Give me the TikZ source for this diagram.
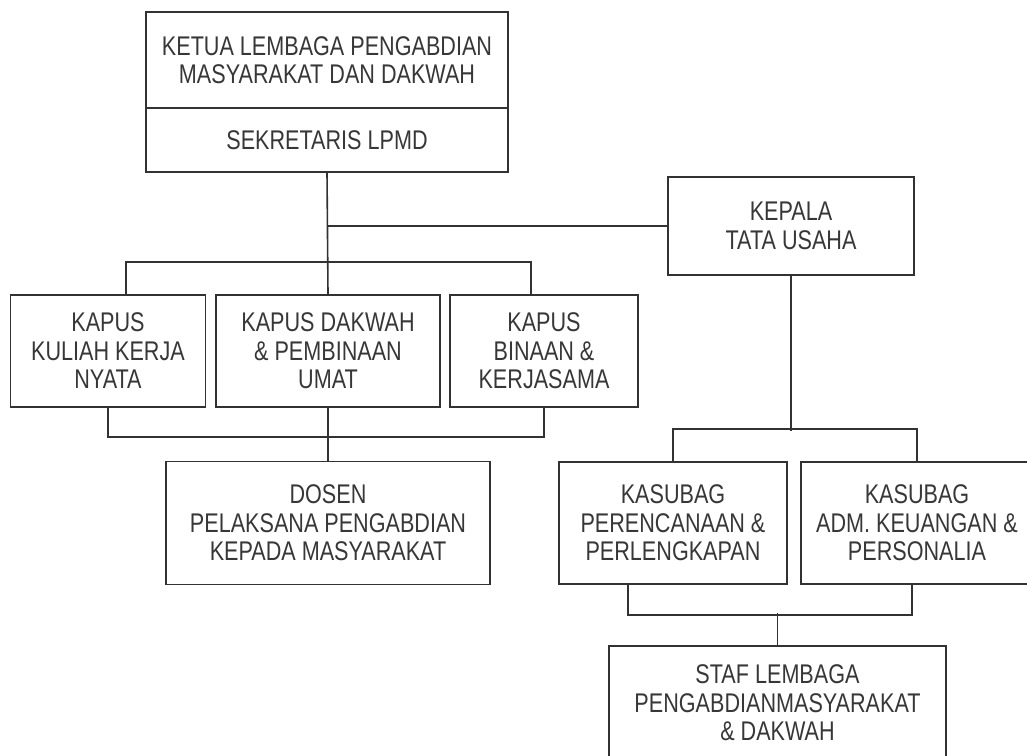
\documentclass[tikz,border=0pt]{standalone}
\usepackage{fontspec}
\setmainfont{Liberation Sans}[FakeStretch=0.8]
\usetikzlibrary{positioning,calc}
\definecolor{LineGray}{RGB}{50,50,50}
\definecolor{TextGray}{RGB}{55,55,55}

\begin{document}
\begin{tikzpicture}[
    x=1pt, y=-1pt,
    font=\fontsize{27}{28.5}\selectfont,
    unit/.style={
        draw=LineGray,
        line width=1.6pt,
        align=center,
        inner sep=0pt,
        text=TextGray,
        fill=white
    },
    link/.style={draw=LineGray, line width=1.6pt}
]
\clip (0,0) rectangle (1027,755);
\fill[white] (0,0) rectangle (1027,755);

% pimpinan
\node[unit, minimum width=362pt, minimum height=96pt] (ketua) at (327,60)
    {KETUA LEMBAGA PENGABDIAN\\MASYARAKAT DAN DAKWAH};
\node[unit, minimum width=362pt, minimum height=64pt] (sekretaris) at (327,140)
    {SEKRETARIS LPMD};
\node[unit, minimum width=246pt, minimum height=98pt] (kepala) at (791,226)
    {KEPALA\\TATA USAHA};

% pusat-pusat
\node[unit, minimum width=195pt, minimum height=112pt] (kapusA) at (108,351)
    {KAPUS\\KULIAH KERJA\\NYATA};
\node[unit, minimum width=224pt, minimum height=112pt] (kapusB) at (328,351)
    {KAPUS DAKWAH\\\& PEMBINAAN\\UMAT};
\node[unit, minimum width=188pt, minimum height=112pt] (kapusC) at (544,351)
    {KAPUS\\BINAAN \&\\KERJASAMA};
\node[unit, minimum width=324pt, minimum height=123pt] (dosen) at (328,523)
    {DOSEN\\PELAKSANA PENGABDIAN\\KEPADA MASYARAKAT};

% tata usaha
\node[unit, minimum width=228pt, minimum height=122pt] (kasubagA) at (673,523)
    {KASUBAG\\PERENCANAAN \&\\PERLENGKAPAN};
\node[unit, minimum width=232pt, minimum height=122pt] (kasubagB) at (917,523)
    {KASUBAG\\ADM. KEUANGAN \&\\PERSONALIA};
\node[unit, minimum width=337pt, minimum height=114pt] (staf) at (777.5,703)
    {STAF LEMBAGA\\PENGABDIANMASYARAKAT\\\& DAKWAH};

\draw[link] (sekretaris.south) -- (kapusB.north);
\draw[link] (kepala.west) -- (kepala.west -| sekretaris.south);
\draw[link] ([xshift=18pt]kapusA.north) -- ++(0,-32) -| ([xshift=-13pt]kapusC.north);
\draw[link] (kapusA.south) -- ++(0,29) -| (kapusC.south);
\draw[link] (kapusB.south) -- (dosen.north);

\draw[link] (kepala.south) -- ++(0,155);
\draw[link] (kasubagA.north) -- ++(0,-32) -| (kasubagB.north);
\draw[link] ([xshift=-45pt]kasubagA.south) -- ++(0,30) -| ([xshift=-5pt]kasubagB.south);
\draw[link] (staf.north) -- ++(0,-32);
\end{tikzpicture}
\end{document}
